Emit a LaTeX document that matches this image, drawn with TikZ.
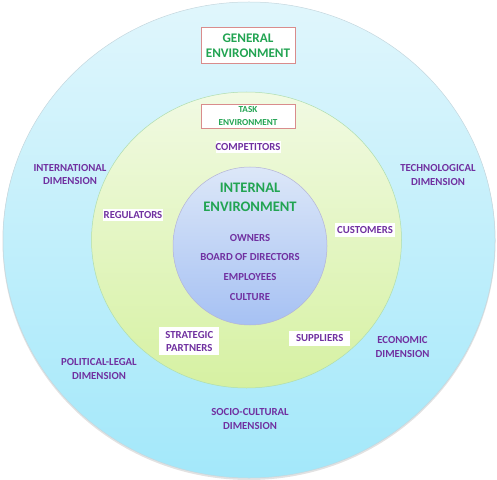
\documentclass[tikz,border=0pt]{standalone}
\usepackage{fontspec}
\setmainfont{Carlito}
\definecolor{envgreen}{HTML}{22A452}
\definecolor{dimpurple}{HTML}{7030A0}
\definecolor{boxborder}{HTML}{D98C8C}
\definecolor{outertop}{HTML}{E0F6FC}
\definecolor{outerbot}{HTML}{A3E8FA}
\definecolor{midtop}{HTML}{F1FAE3}
\definecolor{midbot}{HTML}{D6F1A2}
\definecolor{intop}{HTML}{DCE7F8}
\definecolor{inbot}{HTML}{A6C1F3}
\tikzset{
  title/.style={text=envgreen, font=\bfseries, align=center},
  label/.style={text=dimpurple, font=\bfseries\fontsize{10.8}{14}\selectfont, align=center, inner sep=0pt},
  whitebox/.style={fill=white, inner sep=0pt},
  framebox/.style={fill=white, draw=boxborder, line width=1bp, inner sep=0pt}
}
\begin{document}
\begin{tikzpicture}[x=1bp,y=-1bp]
\useasboundingbox (0,0) rectangle (497,480);
% rings
\fill[gray!45, opacity=0.5] (249,241.5) ellipse [x radius=246.5, y radius=238.5];
\shade[top color=outertop, bottom color=outerbot, draw=cyan!30!gray!40, line width=0.5bp] (249,240) ellipse [x radius=246, y radius=238];
\shade[top color=midtop, bottom color=midbot, draw=green!40!gray!45, line width=0.5bp] (246.5,240) ellipse [x radius=155, y radius=148];
\shade[top color=intop, bottom color=inbot, draw=blue!30!gray!45, line width=0.5bp] (250,246) ellipse [x radius=77, y radius=79];
% general environment
\node[framebox, minimum width=94bp, minimum height=36bp] (gen) at (248,45.5) {};
\node[title, font=\bfseries\fontsize{13.2}{15.5}\selectfont, inner sep=0pt] (gent) at (gen.center) {GENERAL\\ENVIRONMENT};
% task environment
\node[framebox, minimum width=94bp, minimum height=24bp] (task) at (248,116.5) {};
\node[title, font=\bfseries\fontsize{9.2}{13}\selectfont, inner sep=0pt] (taskt) at (task.center) {TASK\\ENVIRONMENT};
% internal environment
\node[title, font=\bfseries\fontsize{14.6}{19}\selectfont, inner sep=0pt] (intl) at (250,197) {INTERNAL\\ENVIRONMENT};
\node[label] (own) at (250,238) {OWNERS};
\node[label] (bod) at (250,257.5) {BOARD OF DIRECTORS};
\node[label] (emp) at (250,277.5) {EMPLOYEES};
\node[label] (cul) at (250,297) {CULTURE};
% task environment items
\node[label, whitebox, minimum width=65bp, minimum height=12bp] (comp) at (248,147) {COMPETITORS};
\node[label, whitebox, minimum width=60bp, minimum height=11.5bp] (reg) at (133,215) {REGULATORS};
\node[label, whitebox, minimum width=60bp, minimum height=13.5bp] (cust) at (365,230) {CUSTOMERS};
\node[label, whitebox, minimum width=60bp, minimum height=28bp, font=\bfseries\fontsize{10.8}{12.7}\selectfont] (strat) at (189.3,341.2) {STRATEGIC\\PARTNERS};
\node[label, whitebox, minimum width=61bp, minimum height=15bp] (supp) at (319.7,338.5) {SUPPLIERS};
% general environment dimensions
\node[label] (intd) at (70,174.5) {INTERNATIONAL\\DIMENSION};
\node[label] (tech) at (438,174.7) {TECHNOLOGICAL\\DIMENSION};
\node[label] (econ) at (402.5,346.7) {ECONOMIC\\DIMENSION};
\node[label] (pol) at (99,369.2) {POLITICAL-LEGAL\\DIMENSION};
\node[label] (soc) at (250,418.7) {SOCIO-CULTURAL\\DIMENSION};
\end{tikzpicture}
\end{document}
